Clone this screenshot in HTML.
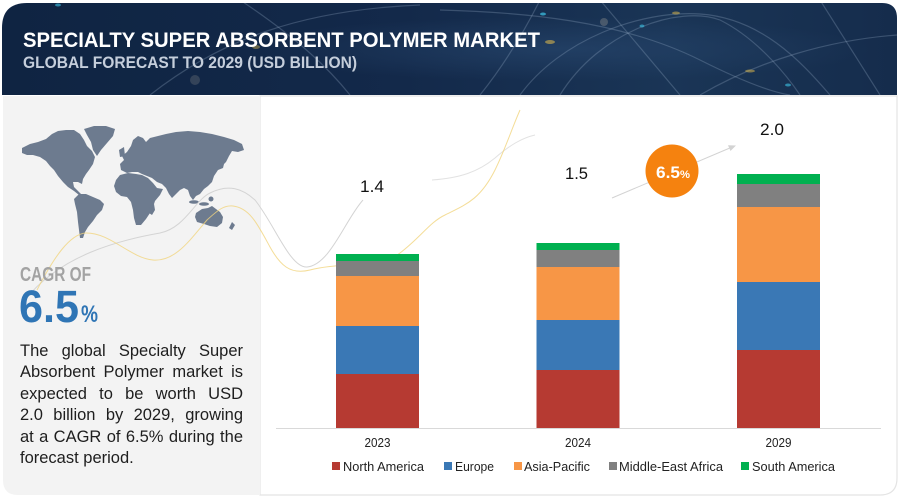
<!DOCTYPE html>
<html>
<head>
<meta charset="utf-8">
<style>
  html,body{margin:0;padding:0;background:#ffffff;}
  body{width:900px;height:498px;overflow:hidden;position:relative;}
  svg{display:block;position:absolute;left:0;top:0;}
  text{font-family:"Liberation Sans",sans-serif;}
  .para{position:absolute;left:20px;top:340.5px;width:223px;font-family:"Liberation Sans",sans-serif;font-size:16.5px;line-height:21.5px;color:#1e1e1e;}
  .para div{text-align:justify;text-align-last:justify;white-space:nowrap;}
  .para div.last{text-align-last:left;}
</style>
</head>
<body>
<svg width="900" height="498" viewBox="0 0 900 498" xmlns="http://www.w3.org/2000/svg">
  <defs>
    <linearGradient id="hdr" x1="0" y1="0" x2="1" y2="0">
      <stop offset="0" stop-color="#0f2442"/>
      <stop offset="0.45" stop-color="#13294a"/>
      <stop offset="0.75" stop-color="#1a3556"/>
      <stop offset="1" stop-color="#152c4c"/>
    </linearGradient>
    <radialGradient id="glow" cx="0.62" cy="0.5" r="0.35">
      <stop offset="0" stop-color="#2a4a72" stop-opacity="0.55"/>
      <stop offset="1" stop-color="#2a4a72" stop-opacity="0"/>
    </radialGradient>
    <clipPath id="hclip">
      <path d="M2,95 L2,28 Q2,3 27,3 L882,3 Q897,3 897,18 L897,95 Z"/>
    </clipPath>
  </defs>

  <!-- card body -->
  <path d="M260,96 L897,96 L897,478 Q897,495 880,495 L260,495 Z" fill="#ffffff" stroke="#e4e4e4" stroke-width="1.2"/>
  <path d="M3,96 L260,96 L260,495 L18,495 Q3,495 3,480 Z" fill="#f3f3f3"/>

  <!-- header -->
  <path d="M2,95 L2,28 Q2,3 27,3 L882,3 Q897,3 897,18 L897,95 Z" fill="url(#hdr)"/>
  <g clip-path="url(#hclip)">
    <rect x="2" y="3" width="895" height="92" fill="url(#glow)"/>
    <g fill="none" stroke="#9fb3cc" stroke-opacity="0.28" stroke-width="1.2">
      <path d="M150,95 C220,40 300,10 420,5"/>
      <path d="M520,95 C560,40 640,10 700,14 C760,18 800,60 830,95"/>
      <path d="M560,95 C600,30 680,5 720,20 C760,40 790,80 800,95"/>
      <path d="M440,10 C520,12 620,20 700,60 C740,80 770,92 790,95"/>
      <path d="M600,0 L680,95"/>
      <path d="M820,0 L880,95"/>
      <path d="M240,0 C300,40 330,70 350,95"/>
      <path d="M540,0 C520,40 500,70 480,95"/>
      <path d="M700,95 C760,60 830,40 897,35"/>
    </g>
    <g>
      <ellipse cx="550" cy="42" rx="5" ry="2" fill="#e8c04a" opacity="0.55"/>
      <ellipse cx="676" cy="13" rx="4" ry="1.5" fill="#e8c04a" opacity="0.5"/>
      <ellipse cx="750" cy="71" rx="5" ry="1.5" fill="#e8c04a" opacity="0.5"/>
      <ellipse cx="256" cy="47" rx="4" ry="2" fill="#e8c04a" opacity="0.4"/>
      <ellipse cx="543" cy="14" rx="3" ry="1.5" fill="#3ec6e8" opacity="0.7"/>
      <ellipse cx="642" cy="26" rx="2.5" ry="1.5" fill="#3ec6e8" opacity="0.6"/>
      <ellipse cx="788" cy="85" rx="3" ry="1.5" fill="#3ec6e8" opacity="0.6"/>
      <ellipse cx="58" cy="5" rx="3" ry="1.5" fill="#3ec6e8" opacity="0.6"/>
      <circle cx="604" cy="22" r="4" fill="#d8c6b0" opacity="0.25"/>
      <circle cx="195" cy="80" r="5" fill="#d8c6b0" opacity="0.18"/>
    </g>
  </g>
  <text x="23" y="47" font-size="21" font-weight="bold" fill="#ffffff" textLength="517" lengthAdjust="spacingAndGlyphs">SPECIALTY SUPER ABSORBENT POLYMER MARKET</text>
  <text x="23" y="68" font-size="17" font-weight="bold" fill="#c5cedb" textLength="334" lengthAdjust="spacingAndGlyphs">GLOBAL FORECAST TO 2029 (USD BILLION)</text>

  <!-- world map -->
  <g fill="#6d7b8f">
    <path d="M22,148 L30,144 L38,142 L46,139 L52,134 L58,131 L66,130 L74,130 L80,134 L84,140 L87,146 L92,151 L95,157 L93,164 L89,170 L86,174 L83,179 L82,184 L78,182 L73,182 L74,187 L78,191 L82,195 L79,195 L74,191 L68,187 L63,182 L58,176 L54,170 L50,166 L46,161 L40,157 L33,155 L27,155 L22,153 Z"/>
    <path d="M84,129 L94,126 L106,126 L115,129 L113,136 L107,143 L101,150 L97,156 L93,150 L91,142 L87,135 Z"/>
    <path d="M79,194 L86,194 L93,197 L100,200 L104,204 L102,210 L97,215 L93,221 L88,227 L85,232 L83,238 L80,238 L79,230 L78,222 L77,212 L75,204 L74,199 Z"/>
    <path d="M121,170 L120,164 L124,160 L122,156 L127,152 L131,146 L133,140 L138,136 L143,138 L146,142 L150,138 L158,136 L166,134 L176,132 L188,131 L200,132 L212,134 L224,137 L234,140 L242,144 L244,150 L238,152 L232,151 L229,156 L226,162 L222,166 L218,170 L214,176 L212,182 L208,186 L204,189 L200,194 L196,196 L193,200 L190,196 L188,190 L184,188 L180,190 L176,194 L172,198 L169,194 L166,188 L162,184 L157,182 L152,178 L147,176 L142,174 L138,172 L132,172 L127,173 Z"/>
    <path d="M116,180 L120,175 L128,173 L136,174 L142,175 L148,178 L153,183 L157,188 L163,189 L160,195 L155,201 L153,207 L150,213 L146,219 L141,225 L136,225 L134,218 L133,210 L131,202 L127,197 L121,196 L116,192 L114,186 Z"/>
    <path d="M150,206 L154,204 L155,210 L152,215 L149,213 Z"/>
    <path d="M196,213 L202,209 L208,208 L212,206 L216,209 L220,212 L223,217 L222,223 L217,227 L210,226 L204,224 L197,222 L195,217 Z"/>
    <path d="M232,222 L235,225 L232,230 L229,228 Z"/>
    <path d="M221,156 L225,160 L223,168 L218,170 Z"/>
    <path d="M119,150 L124,147 L125,156 L120,157 Z"/>
    <ellipse cx="194" cy="202" rx="5" ry="1.8"/>
    <ellipse cx="204" cy="204" rx="5" ry="1.8"/>
    <ellipse cx="211" cy="199" rx="2.5" ry="2.5"/>
  </g>

  <!-- decorative curves -->
  <g fill="none" stroke-width="1">
    <path d="M25,300 C60,255 120,240 160,233 C185,228 195,200 210,193 C228,184 242,188 255,200 C275,225 290,268 307,267 C330,265 345,220 363,200" stroke="#d4d4d4"/>
    <path d="M432,180 C460,178 478,172 495,158 C510,145 522,138 535,135" stroke="#e2e2e2"/>
    <path d="M37,290 C55,255 70,235 85,233 C110,232 130,258 153,260 C175,262 190,240 207,220 C218,210 224,205 233,206 C250,208 258,225 270,247 C280,265 290,275 310,270 C340,262 380,268 400,253 C420,238 430,222 445,215 C465,205 480,200 495,170 C505,150 512,128 520,110" stroke="#f1d47e" stroke-opacity="0.8"/>
  </g>

  <!-- left text -->
  <text x="20" y="281" font-size="20" font-weight="bold" fill="#a3a3a3" textLength="71" lengthAdjust="spacingAndGlyphs">CAGR OF</text>
  <text x="19" y="322" font-size="45" fill="#2f75b5" font-weight="bold" textLength="60" lengthAdjust="spacingAndGlyphs">6.5</text>
  <text x="81" y="322" font-size="24" fill="#2f75b5" font-weight="bold" textLength="17" lengthAdjust="spacingAndGlyphs">%</text>

  <!-- axis -->
  <line x1="276" y1="428.5" x2="881" y2="428.5" stroke="#d9d9d9" stroke-width="1"/>

  <!-- bars 2023 -->
  <rect x="336" y="374" width="83" height="54" fill="#b63a32"/>
  <rect x="336" y="326" width="83" height="48" fill="#3a78b5"/>
  <rect x="336" y="276" width="83" height="50" fill="#f79646"/>
  <rect x="336" y="261" width="83" height="15" fill="#808080"/>
  <rect x="336" y="254" width="83" height="7" fill="#00b050"/>
  <!-- bars 2024 -->
  <rect x="536.5" y="370" width="83" height="58" fill="#b63a32"/>
  <rect x="536.5" y="320" width="83" height="50" fill="#3a78b5"/>
  <rect x="536.5" y="267" width="83" height="53" fill="#f79646"/>
  <rect x="536.5" y="250" width="83" height="17" fill="#808080"/>
  <rect x="536.5" y="243" width="83" height="7" fill="#00b050"/>
  <!-- bars 2029 -->
  <rect x="737" y="350" width="83" height="78" fill="#b63a32"/>
  <rect x="737" y="282" width="83" height="68" fill="#3a78b5"/>
  <rect x="737" y="207" width="83" height="75" fill="#f79646"/>
  <rect x="737" y="184" width="83" height="23" fill="#808080"/>
  <rect x="737" y="174" width="83" height="10" fill="#00b050"/>

  <!-- value labels -->
  <g font-size="17" fill="#111111">
    <text x="360" y="192" textLength="24" lengthAdjust="spacingAndGlyphs">1.4</text>
    <text x="565" y="179" textLength="23" lengthAdjust="spacingAndGlyphs">1.5</text>
    <text x="760" y="135" textLength="24" lengthAdjust="spacingAndGlyphs">2.0</text>
  </g>

  <!-- growth arrow & circle -->
  <line x1="612" y1="198" x2="731" y2="147.5" stroke="#d3d3d3" stroke-width="1"/>
  <path d="M736,145.5 L728,145.3 L730.5,151 Z" fill="#d3d3d3"/>
  <circle cx="672" cy="171" r="26.5" fill="#f5820f"/>
  <text x="656" y="178" font-size="17" font-weight="bold" fill="#ffffff" textLength="24" lengthAdjust="spacingAndGlyphs">6.5</text>
  <text x="680" y="178" font-size="11" font-weight="bold" fill="#ffffff" textLength="10" lengthAdjust="spacingAndGlyphs">%</text>

  <!-- year labels -->
  <g font-size="13" fill="#222222">
    <text x="364.5" y="447" textLength="26" lengthAdjust="spacingAndGlyphs">2023</text>
    <text x="565" y="447" textLength="26" lengthAdjust="spacingAndGlyphs">2024</text>
    <text x="765.5" y="447" textLength="26" lengthAdjust="spacingAndGlyphs">2029</text>
  </g>

  <!-- legend -->
  <g font-size="13" fill="#222222">
    <rect x="332" y="462" width="8" height="8" fill="#b63a32"/>
    <text x="343" y="471" textLength="81" lengthAdjust="spacingAndGlyphs">North America</text>
    <rect x="444" y="462" width="8" height="8" fill="#3a78b5"/>
    <text x="455" y="471" textLength="39" lengthAdjust="spacingAndGlyphs">Europe</text>
    <rect x="514" y="462" width="8" height="8" fill="#f79646"/>
    <text x="524" y="471" textLength="66" lengthAdjust="spacingAndGlyphs">Asia-Pacific</text>
    <rect x="609" y="462" width="8" height="8" fill="#808080"/>
    <text x="619" y="471" textLength="104" lengthAdjust="spacingAndGlyphs">Middle-East Africa</text>
    <rect x="741" y="462" width="8" height="8" fill="#00b050"/>
    <text x="752" y="471" textLength="83" lengthAdjust="spacingAndGlyphs">South America</text>
  </g>
</svg>
<div class="para">
  <div>The global Specialty Super</div>
  <div>Absorbent Polymer market is</div>
  <div>expected to be worth USD</div>
  <div>2.0 billion by 2029, growing</div>
  <div>at a CAGR of 6.5% during the</div>
  <div class="last">forecast period.</div>
</div>
</body>
</html>
